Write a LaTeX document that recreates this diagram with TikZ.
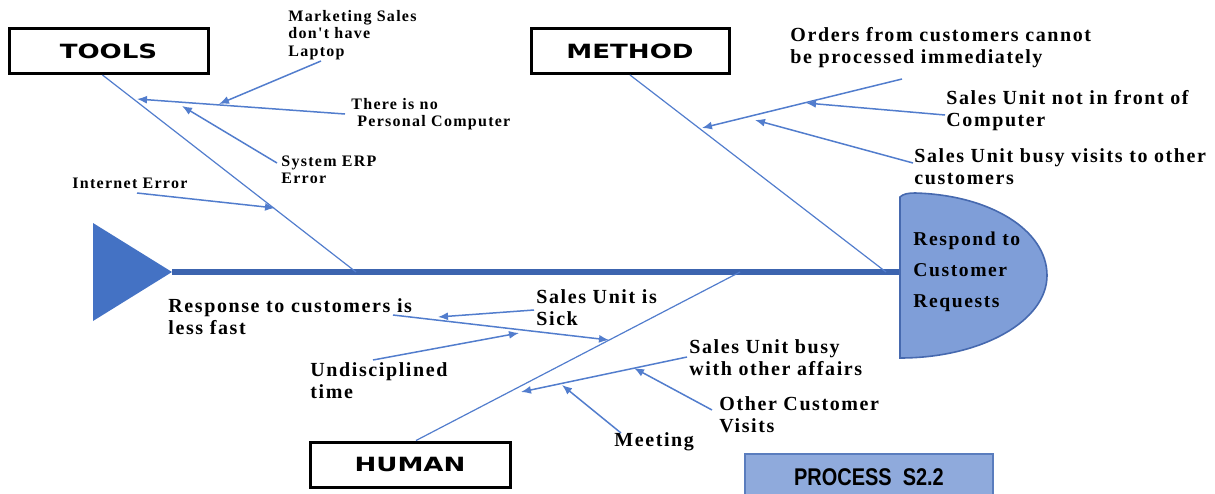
\documentclass[tikz,border=0pt]{standalone}
\usepackage{fontspec}
\setmainfont{Liberation Serif}
\newfontfamily\lblfont[LetterSpace=8]{Liberation Serif}
\newfontfamily\catfont{DejaVu Sans}
\newfontfamily\procfont{Liberation Sans}
\usetikzlibrary{positioning,arrows.meta}
\definecolor{tricol}{RGB}{68,114,196}
\definecolor{spinecol}{RGB}{60,100,175}
\definecolor{bonecol}{RGB}{82,125,205}
\definecolor{headfill}{RGB}{127,158,216}
\definecolor{headline}{RGB}{70,105,175}
\definecolor{procfill}{RGB}{143,170,220}
\definecolor{procline}{RGB}{90,125,190}

\begin{document}
\begin{tikzpicture}[x=0.5pt, y=-0.5pt,
  catbox/.style={draw, line width=1.5pt, fill=white, inner sep=0pt,
    minimum height=22.5pt, font=\catfont\bfseries\fontsize{9.8}{11}\selectfont},
  lbl/.style={anchor=west, inner sep=0pt, align=left,
    font=\lblfont\bfseries\fontsize{10}{11}\selectfont},
  smlbl/.style={lbl, font=\lblfont\bfseries\fontsize{8}{8.75}\selectfont},
  bone/.style={draw=bonecol, line width=0.6pt},
  cause/.style={draw=bonecol, line width=0.75pt, -{Latex[length=5pt,width=4pt]}}]
  \useasboundingbox (0,0) rectangle (1215,493);

  % head and spine
  \coordinate (tail) at (172,272);
  \coordinate (headL) at (900,272);
  \fill[tricol] (93,223) -- (tail) -- (93,321) -- cycle;
  \draw[spinecol, line width=3pt] (tail) -- (headL);
  \filldraw[fill=headfill, draw=headline, line width=0.8pt]
    (900,358) -- (900,197) .. controls (903,194) and (908,193) .. (915,193)
    .. controls (990,195) and (1047,230) .. (1047,275.5)
    .. controls (1047,321.1) and (981.2,358) .. (900,358) -- cycle;
  \node[lbl, font=\lblfont\bfseries\fontsize{9.8}{15.5}\selectfont] (resp) at (913,272)
    {Respond to\\Customer\\Requests};

  % categories
  \node[catbox, minimum width=99.5pt] (tools) at (108.5,51) {\scalebox{1.33}[1]{TOOLS}};
  \node[catbox, minimum width=99pt] (method) at (630,51) {\scalebox{1.33}[1]{METHOD}};
  \node[catbox, minimum width=100pt] (human) at (410,464.5) {\scalebox{1.33}[1]{HUMAN}};
  \node[draw=procline, fill=procfill, line width=0.8pt, minimum width=124pt,
    minimum height=23pt, font=\procfont\bfseries\fontsize{10.5}{12}\selectfont]
    (proc) at (869,477) {\scalebox{0.95}[1.15]{PROCESS\ \ S2.2}};

  % bones
  \coordinate (tb) at (356,272);
  \coordinate (mb) at (886,272);
  \coordinate (hb) at (740,272);
  \draw[bone] ([xshift=-3pt]tools.south) -- (tb);
  \draw[bone] (method.south) -- (mb);
  \draw[bone] ([xshift=3pt]human.north) -- (hb);

  % tools causes
  \node[smlbl] (laptop) at (288,35) {Marketing Sales\\don't have\\Laptop};
  \node[smlbl] (nopc) at (351,114) {There is no\\\hspace{3pt}Personal Computer};
  \node[smlbl] (erp) at (281,170) {System ERP\\Error};
  \node[smlbl] (net) at (72,183) {Internet Error};
  \coordinate (laptopS) at (321,61);   \coordinate (laptopT) at (219,104);
  \coordinate (nopcS) at (345,114);    \coordinate (nopcT) at (137,99);
  \coordinate (erpS) at (277,163);     \coordinate (erpT) at (182,106);
  \coordinate (netS) at (137,193);     \coordinate (netT) at (275,208);
  \draw[cause] (nopcS) -- (nopcT);
  \draw[cause] (laptopS) -- (laptopT);
  \draw[cause] (erpS) -- (erpT);
  \draw[cause] (netS) -- (netT);

  % method causes
  \node[lbl] (orders) at (790,48) {Orders from customers cannot\\be processed immediately};
  \node[lbl] (front) at (946,111) {Sales Unit not in front of\\Computer};
  \node[lbl] (visits) at (914,167) {Sales Unit busy visits to other\\customers};
  \coordinate (ordersS) at (902,79);   \coordinate (ordersT) at (702,128);
  \coordinate (frontS) at (945,115);   \coordinate (frontT) at (806,103);
  \coordinate (visitsS) at (913,163);  \coordinate (visitsT) at (755,120);
  \draw[cause] (ordersS) -- (ordersT);
  \draw[cause] (frontS) -- (frontT);
  \draw[cause] (visitsS) -- (visitsT);

  % human causes
  \node[lbl] (slow) at (168,317) {Response to customers is\\less fast};
  \node[lbl] (sick) at (536,308) {Sales Unit is\\Sick};
  \node[lbl] (undis) at (310,381) {Undisciplined\\time};
  \node[lbl] (affairs) at (689,358) {Sales Unit busy\\with other affairs};
  \node[lbl] (other) at (719,415) {Other Customer\\Visits};
  \node[lbl] (meet) at (614,442) {Meeting};
  \coordinate (slowS) at (393,315);    \coordinate (slowT) at (609,340);
  \coordinate (sickS) at (534,310);    \coordinate (sickT) at (438,317);
  \coordinate (undisS) at (373,360);   \coordinate (undisT) at (519,333);
  \coordinate (affairsS) at (687,357); \coordinate (affairsT) at (521,392);
  \coordinate (otherS) at (712,410);   \coordinate (otherT) at (634,368);
  \coordinate (meetS) at (621,433);    \coordinate (meetT) at (562,385);
  \draw[cause] (slowS) -- (slowT);
  \draw[cause] (sickS) -- (sickT);
  \draw[cause] (undisS) -- (undisT);
  \draw[cause] (affairsS) -- (affairsT);
  \draw[cause] (otherS) -- (otherT);
  \draw[cause] (meetS) -- (meetT);
\end{tikzpicture}
\end{document}
